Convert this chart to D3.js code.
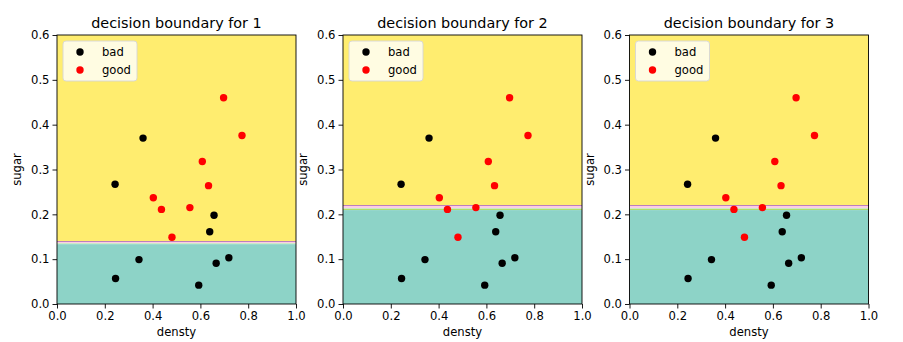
<!DOCTYPE html>
<html><head><meta charset="utf-8">
<script src="https://cdn.jsdelivr.net/npm/d3@7"></script>
<style>body{margin:0;background:#fff}svg{display:block}text{font-family:"DejaVu Sans",sans-serif}</style>
</head><body><svg id="c" width="903" height="342"></svg>
<script>
const density = [0.697,0.774,0.634,0.608,0.556,0.403,0.481,0.437,0.666,0.243,0.245,0.343,0.639,0.657,0.360,0.593,0.719];
const sugar   = [0.460,0.376,0.264,0.318,0.215,0.237,0.149,0.211,0.091,0.267,0.057,0.099,0.161,0.198,0.370,0.042,0.103];
const label   = ["good","good","good","good","good","good","good","good","bad","bad","bad","bad","bad","bad","bad","bad","bad"];
const titles = ["decision boundary for 1","decision boundary for 2","decision boundary for 3"];
// boundary band (lower, upper) in sugar units per subplot
const boundaryLow  = [0.1335, 0.2095, 0.2095];
const boundaryHigh = [0.1405, 0.2208, 0.2208];
const xTicks = [0,0.2,0.4,0.6,0.8,1.0];
const yTicks = [0,0.1,0.2,0.3,0.4,0.5,0.6];
const bandColors = ["#b3de69","#ccebc5","#fccde5","#bc80bd"];

(function(){
const svg = d3.select("#c");
const lefts = [57, 343, 629.5];
const W = 239, T = 35, H = 269;
const colorMap = {bad:"#000000", good:"#ff0000"};

titles.forEach((t,i)=>{
  const g = svg.append("g").attr("transform",`translate(${lefts[i]},${T})`);
  const x = d3.scaleLinear().domain([0,1]).range([0,W]);
  const y = d3.scaleLinear().domain([0,0.6]).range([H,0]);
  g.append("rect").attr("x",0).attr("y",0).attr("width",W).attr("height",y(boundaryHigh[i])).attr("fill","#ffed6f");
  g.append("rect").attr("x",0).attr("y",y(boundaryLow[i])).attr("width",W).attr("height",H-y(boundaryLow[i])).attr("fill","#8dd3c7");
  const n = bandColors.length;
  bandColors.forEach((c,k)=>{
    const lo = boundaryLow[i] + (boundaryHigh[i]-boundaryLow[i])*k/n;
    const hi = boundaryLow[i] + (boundaryHigh[i]-boundaryLow[i])*(k+1)/n;
    g.append("rect").attr("x",0).attr("y",y(hi)).attr("width",W).attr("height",Math.max(1,y(lo)-y(hi))).attr("fill",c).attr("shape-rendering","crispEdges");
  });
  ["bad","good"].forEach(cls=>{
    density.forEach((d,j)=>{
      if(label[j]!==cls) return;
      g.append("circle").attr("cx",x(d)).attr("cy",y(sugar[j])).attr("r",3.7).attr("fill",colorMap[cls]);
    });
  });
  const xa = g.append("g").attr("transform",`translate(0,${H})`)
    .call(d3.axisBottom(x).tickValues(xTicks).tickFormat(d3.format(".1f")).tickSizeOuter(0).tickSize(4.5).tickPadding(3));
  const ya = g.append("g")
    .call(d3.axisLeft(y).tickValues(yTicks).tickFormat(d3.format(".1f")).tickSizeOuter(0).tickSize(4.5).tickPadding(3));
  [xa,ya].forEach(a=>{a.select(".domain").remove();a.selectAll("text").attr("font-size",11.6).attr("fill","#000").attr("font-family","DejaVu Sans");a.selectAll("line").attr("stroke","#000").attr("stroke-width",0.9);});
  g.append("rect").attr("x",0).attr("y",0).attr("width",W).attr("height",H).attr("fill","none").attr("stroke","#000").attr("stroke-width",0.9);
  g.append("text").attr("x",W/2).attr("y",-7).attr("text-anchor","middle").attr("font-size",14.4).text(t);
  g.append("text").attr("x",W/2).attr("y",H+32).attr("text-anchor","middle").attr("font-size",11.6).text("densty");
  g.append("text").attr("transform",`translate(-36,${H/2}) rotate(-90)`).attr("text-anchor","middle").attr("font-size",11.6).text("sugar");
  const lg = g.append("g").attr("transform","translate(6,6)");
  lg.append("rect").attr("width",74).attr("height",40).attr("rx",3).attr("fill","#ffffff").attr("fill-opacity",0.8).attr("stroke","#d6d6d6").attr("stroke-width",0.9);
  ["bad","good"].forEach((cls,k)=>{
    lg.append("circle").attr("cx",17).attr("cy",11+k*18).attr("r",3.7).attr("fill",colorMap[cls]);
    lg.append("text").attr("x",39).attr("y",15+k*18).attr("font-size",11.6).text(cls);
  });
});
})();
</script></body></html>
